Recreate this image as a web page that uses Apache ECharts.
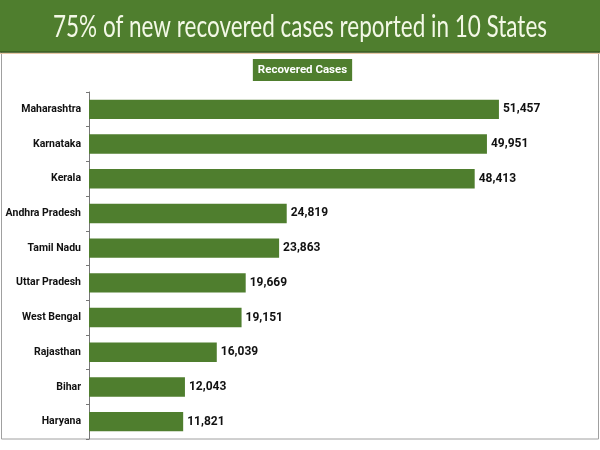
<!DOCTYPE html>
<html>
<head>
<meta charset="utf-8">
<script src="https://cdn.jsdelivr.net/npm/echarts@6/dist/echarts.min.js"></script>
<style>
html,body{margin:0;padding:0;background:#fff;}
#chart{width:600px;height:450px;}
</style>
</head>
<body>
<div id="chart"></div>
<script>
const titleText = '75% of new recovered cases reported in 10 States';
const seriesName = 'Recovered Cases';
const states = ['Maharashtra','Karnataka','Kerala','Andhra Pradesh','Tamil Nadu','Uttar Pradesh','West Bengal','Rajasthan','Bihar','Haryana'];
const recovered = [51457,49951,48413,24819,23863,19669,19151,16039,12043,11821];

const GREEN = '#4f7e2e';
const labelFont = 'Roboto, "Noto Sans", sans-serif';
const cv = document.createElement('canvas').getContext('2d');
function w(font, s){ cv.font = font; return cv.measureText(s).width; }

// scale title horizontally to match the reference width
const titleFont = 'normal 30px Lato, "Open Sans", sans-serif';
const titleScale = 494 / w(titleFont, titleText);

const chart = echarts.init(document.getElementById('chart'), null, {renderer:'canvas'});
chart.setOption({
  backgroundColor: '#fff',
  animation: false,
  graphic: [
    {type:'rect', z:-10, shape:{x:1.5, y:52, width:597, height:387}, style:{fill:'#fff', stroke:'#a0a0a0', lineWidth:1}},
    {type:'rect', z:0, shape:{x:0, y:0, width:600, height:52}, style:{fill:GREEN}},
    {type:'line', z:1, shape:{x1:0, y1:52, x2:600, y2:52}, style:{stroke:'#3b5a22', lineWidth:1.5}},
    {type:'line', z:1, shape:{x1:0, y1:53.5, x2:600, y2:53.5}, style:{stroke:'#e9c7a6', lineWidth:1}},
    {type:'text', z:2, x:300, y:27, scaleX:titleScale, scaleY:1,
      style:{text:titleText, fill:'#f3f8e6', font:titleFont, textAlign:'center', textVerticalAlign:'middle', align:'center', verticalAlign:'middle'}}
  ],
  legend: {
    data: [seriesName],
    top: 54,
    left: 'center',
    icon: 'none',
    itemWidth: 0,
    itemHeight: 0,
    itemGap: 0,
    selectedMode: false,
    textStyle: {
      color:'#fff', backgroundColor:GREEN, fontWeight:'bold', fontSize:11.5,
      fontFamily: labelFont, padding:[5,5,5,5]
    }
  },
  grid: {left:89, right:33, top:92, bottom:11, containLabel:false, outerBoundsMode:'none'},
  xAxis: {type:'value', min:0, max:60000, show:false, splitLine:{show:false}},
  yAxis: {
    type:'category', data:states, inverse:true,
    axisLine:{show:true, lineStyle:{color:'#777', width:1}},
    axisTick:{show:true, length:3, lineStyle:{color:'#777'}},
    axisLabel:{color:'#111', fontWeight:'bold', fontSize:10.5, fontFamily:labelFont, margin:8}
  },
  series: [{
    name: seriesName,
    type: 'bar',
    data: recovered,
    barWidth: '56%',
    itemStyle: {color: GREEN},
    label: {
      show:true, position:'right', distance:4,
      color:'#111', fontWeight:'bold', fontSize:12, fontFamily:labelFont,
      formatter: p => p.value.toLocaleString('en-US')
    }
  }]
});
</script>
</body>
</html>
